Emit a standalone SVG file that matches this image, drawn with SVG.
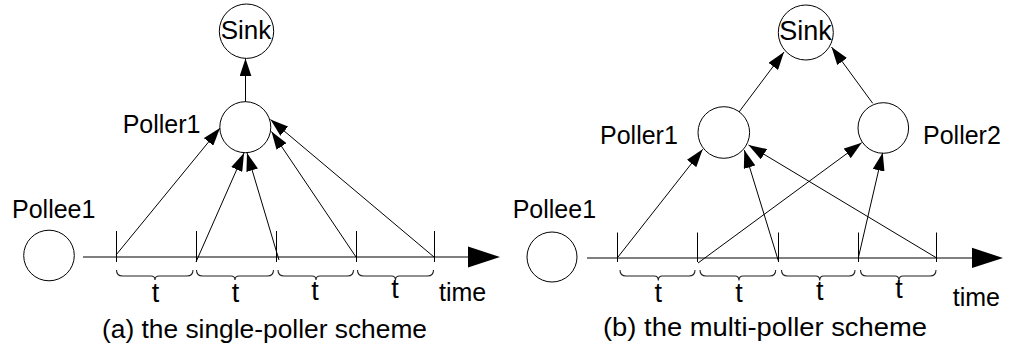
<svg xmlns="http://www.w3.org/2000/svg" width="1009" height="350" viewBox="0 0 1009 350">
  <style>
    .node { fill: #fff; stroke: #000; stroke-width: 1; }
    .lbl { font-family: "Liberation Sans", Arial, sans-serif; font-size: 25px; fill: #000; }
    .t { font-family: "Liberation Sans", Arial, sans-serif; font-size: 27px; fill: #000; text-anchor: middle; }
    .cap { font-family: "Liberation Sans", Arial, sans-serif; font-size: 26px; fill: #000; }
    .edge { stroke: #000; stroke-width: 1; fill: none; }
    .axis { stroke: #000; stroke-width: 1; fill: none; }
    .tick { stroke: #000; stroke-width: 1; }
    .brace { stroke: #222; stroke-width: 1.1; fill: none; }
  </style>
  <defs>
    <marker id="arrow" markerUnits="userSpaceOnUse" markerWidth="18" markerHeight="12" refX="18" refY="6" orient="auto">
      <path d="M0,0 L18,6 L0,12 z" fill="#000"/>
    </marker>
  </defs>
  <rect width="1009" height="350" fill="#fff"/>

  <!-- (a) single-poller scheme -->
  <g id="a-sink">
    <circle class="node" cx="246.5" cy="31.2" r="27.2"/>
    <text class="lbl" x="246" y="38.5" text-anchor="middle" style="font-size:26px">Sink</text>
  </g>
  <g id="a-poller1">
    <circle class="node" cx="245.3" cy="127.2" r="25.5"/>
    <text class="lbl" x="122.7" y="133">Poller1</text>
  </g>
  <g id="a-pollee1">
    <circle class="node" cx="49" cy="255.5" r="25.3"/>
    <text class="lbl" x="12" y="218">Pollee1</text>
  </g>
  <g id="a-timeline">
    <line class="axis" x1="83" y1="257" x2="470" y2="257"/>
    <polygon points="468,246.5 500,257 468,267.5" fill="#000"/>
    <line class="tick" x1="116.5" y1="231" x2="116.5" y2="262"/>
    <line class="tick" x1="196.5" y1="231" x2="196.5" y2="262"/>
    <line class="tick" x1="276.5" y1="231" x2="276.5" y2="262"/>
    <line class="tick" x1="356.5" y1="231" x2="356.5" y2="262"/>
    <line class="tick" x1="434.5" y1="231" x2="434.5" y2="262"/>
    <path class="brace" d="M116.5,270 Q116.5,276 122.5,276 H151 Q155,276 155,280 Q155,276 159,276 H187 Q193,276 193,270"/>
    <path class="brace" d="M196.5,270 Q196.5,276 202.5,276 H231 Q235,276 235,280 Q235,276 239,276 H267.5 Q273.5,276 273.5,270"/>
    <path class="brace" d="M278,270 Q278,276 284,276 H312 Q316,276 316,280 Q316,276 320,276 H347.5 Q353.5,276 353.5,270"/>
    <path class="brace" d="M357.5,270 Q357.5,276 363.5,276 H391.5 Q395.5,276 395.5,280 Q395.5,276 399.5,276 H427.5 Q433.5,276 433.5,270"/>
    <text class="t" x="155.5" y="302">t</text>
    <text class="t" x="235.5" y="302">t</text>
    <text class="t" x="315" y="300">t</text>
    <text class="t" x="395" y="298">t</text>
    <text class="lbl" x="439" y="301">time</text>
  </g>
  <g id="a-edges">
    <line class="edge" x1="245.5" y1="101.7" x2="245.5" y2="58.4" marker-end="url(#arrow)"/>
    <line class="edge" x1="116" y1="255" x2="220" y2="128" marker-end="url(#arrow)"/>
    <line class="edge" x1="196" y1="262" x2="244" y2="153" marker-end="url(#arrow)"/>
    <line class="edge" x1="279" y1="260" x2="247" y2="153" marker-end="url(#arrow)"/>
    <line class="edge" x1="356" y1="257" x2="271.5" y2="131.5" marker-end="url(#arrow)"/>
    <line class="edge" x1="434" y1="257" x2="270.5" y2="119.5" marker-end="url(#arrow)"/>
  </g>
  <text class="cap" x="102" y="338" textLength="325" lengthAdjust="spacingAndGlyphs">(a) the single-poller scheme</text>

  <!-- (b) multi-poller scheme -->
  <g id="b-sink">
    <circle class="node" cx="805.8" cy="32.5" r="27.5"/>
    <text class="lbl" x="805.5" y="39.5" text-anchor="middle" style="font-size:27px">Sink</text>
  </g>
  <g id="b-poller1">
    <circle class="node" cx="723.8" cy="132.5" r="25.8"/>
    <text class="lbl" x="600" y="144">Poller1</text>
  </g>
  <g id="b-poller2">
    <circle class="node" cx="883.3" cy="128" r="25.3"/>
    <text class="lbl" x="923" y="144">Poller2</text>
  </g>
  <g id="b-pollee1">
    <circle class="node" cx="552" cy="257" r="25"/>
    <text class="lbl" x="512.7" y="218">Pollee1</text>
  </g>
  <g id="b-timeline">
    <line class="axis" x1="587" y1="258" x2="974" y2="258"/>
    <polygon points="972,247.7 1003,258 972,268" fill="#000"/>
    <line class="tick" x1="617.5" y1="232.5" x2="617.5" y2="262"/>
    <line class="tick" x1="697.5" y1="232.5" x2="697.5" y2="262"/>
    <line class="tick" x1="778.5" y1="232.5" x2="778.5" y2="262"/>
    <line class="tick" x1="858.5" y1="232.5" x2="858.5" y2="262"/>
    <line class="tick" x1="936.5" y1="232.5" x2="936.5" y2="262"/>
    <path class="brace" d="M620,270 Q620,276 626,276 H654.3 Q658.3,276 658.3,280.5 Q658.3,276 662.3,276 H689 Q695,276 695,270"/>
    <path class="brace" d="M700,270 Q700,276 706,276 H735 Q739,276 739,280.5 Q739,276 743,276 H769.7 Q775.7,276 775.7,270"/>
    <path class="brace" d="M781.5,270 Q781.5,276 787.5,276 H815.7 Q819.7,276 819.7,280.5 Q819.7,276 823.7,276 H849 Q855,276 855,270"/>
    <path class="brace" d="M860.5,270 Q860.5,276 866.5,276 H895 Q899,276 899,280.5 Q899,276 903,276 H930 Q936,276 936,270"/>
    <text class="t" x="658.3" y="302">t</text>
    <text class="t" x="739" y="302">t</text>
    <text class="t" x="819.7" y="300">t</text>
    <text class="t" x="899" y="298.3">t</text>
    <text class="lbl" x="952.7" y="306">time</text>
  </g>
  <g id="b-edges">
    <line class="edge" x1="739" y1="112" x2="784" y2="52" marker-end="url(#arrow)"/>
    <line class="edge" x1="872.7" y1="103.3" x2="831.5" y2="47" marker-end="url(#arrow)"/>
    <line class="edge" x1="618" y1="257" x2="702.7" y2="149.3" marker-end="url(#arrow)"/>
    <line class="edge" x1="778.3" y1="260.7" x2="744.3" y2="150" marker-end="url(#arrow)"/>
    <line class="edge" x1="936.7" y1="258" x2="748.5" y2="145" marker-end="url(#arrow)"/>
    <line class="edge" x1="698" y1="263" x2="861.7" y2="142.7" marker-end="url(#arrow)"/>
    <line class="edge" x1="858.3" y1="258" x2="882.7" y2="152.7" marker-end="url(#arrow)"/>
  </g>
  <text class="cap" x="603" y="336" textLength="324" lengthAdjust="spacingAndGlyphs">(b) the multi-poller scheme</text>
</svg>
